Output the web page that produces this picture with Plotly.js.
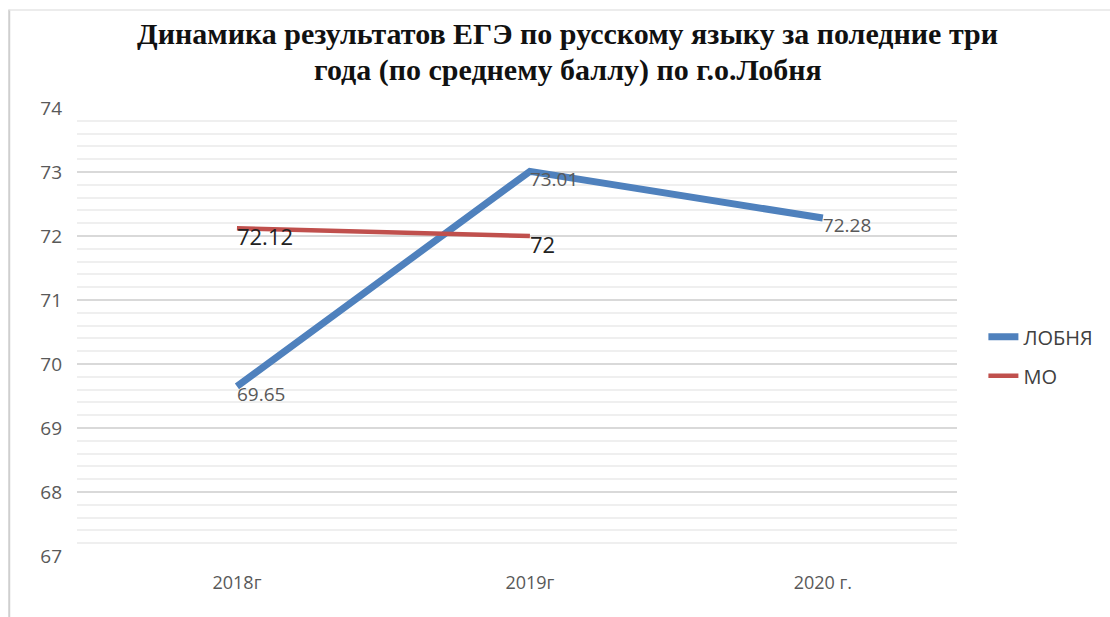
<!DOCTYPE html>
<html>
<head>
<meta charset="utf-8">
<script src="https://cdn.plot.ly/plotly-3.0.1.min.js"></script>
<style>html,body{margin:0;padding:0;background:#fff;}#chart{width:1110px;height:617px;}</style>
</head>
<body>
<div id="chart"></div>
<script>
const years = ["2018г", "2019г", "2020 г."];
const lobnya = [69.65, 73.01, 72.28];
const mo = [72.12, 72.00];
const moYears = ["2018г", "2019г"];
const yTicks = [67, 68, 69, 70, 71, 72, 73, 74];
const titleLines = ["Динамика результатов ЕГЭ по русскому языку за поледние три", "года (по среднему баллу) по г.о.Лобня"];

const traces = [
  {
    x: years, y: lobnya, name: "ЛОБНЯ", type: "scatter", mode: "lines+text",
    line: {color: "#4F81BD", width: 7}, legendgroup: "a",
    text: lobnya.map(v => String(v)), textposition: "bottom right",
    textfont: {family: "Open Sans, sans-serif", size: 19, color: "#595959"},
    cliponaxis: false
  },
  {
    x: moYears, y: mo, name: "МО", type: "scatter", mode: "lines+text",
    line: {color: "#C0504D", width: 4.5}, legendgroup: "b",
    text: mo.map(v => String(v)), textposition: "bottom right",
    textfont: {family: "Open Sans, sans-serif", size: 22, color: "#222"},
    cliponaxis: false
  }
];

const titleFont = {family: "Liberation Serif, serif", size: 30, color: "#111"};
const titleX = (571 - 77) / 886;

const layout = {
  width: 1110, height: 617,
  margin: {l: 77, r: 147, t: 108, b: 61},
  paper_bgcolor: "#fff", plot_bgcolor: "#fff",
  xaxis: {
    type: "category", range: [-0.546, 2.458],
    showgrid: false, zeroline: false, showline: false, ticks: "",
    tickfont: {family: "Open Sans, sans-serif", size: 18, color: "#595959"},
    ticklabelstandoff: 14
  },
  yaxis: {
    range: [67, 74], tickvals: yTicks, ticks: "",
    showgrid: true, gridcolor: "#d9d9d9", gridwidth: 1.5,
    zeroline: false, showline: false,
    minor: {dtick: 0.2, showgrid: true, gridcolor: "#efefef", gridwidth: 1.5},
    tickfont: {family: "Open Sans, sans-serif", size: 19, color: "#595959"},
    ticklabelstandoff: 14
  },
  legend: {
    x: 1.03, xanchor: "left", y: 0.446, yanchor: "middle",
    font: {family: "Open Sans, sans-serif", size: 20, color: "#404040"},
    itemwidth: 30, tracegroupgap: 10
  },
  annotations: [
    {text: "<b>" + titleLines[0] + "</b>", xref: "paper", yref: "paper", x: titleX, xanchor: "center",
     y: (556 - 33) / 448, yanchor: "middle", showarrow: false, font: titleFont},
    {text: "<b>" + titleLines[1] + "</b>", xref: "paper", yref: "paper", x: titleX, xanchor: "center",
     y: (556 - 70) / 448, yanchor: "middle", showarrow: false, font: titleFont}
  ],
  shapes: [
    {type: "line", xref: "paper", yref: "paper", x0: -0.077, x1: -0.077, y0: -0.2, y1: 1.22, line: {color: "#cfcfcf", width: 2}},
    {type: "line", xref: "paper", yref: "paper", x0: -0.077, x1: 1.2, y0: 1.219, y1: 1.219, line: {color: "#e6e6e6", width: 1.5}}
  ]
};

Plotly.newPlot("chart", traces, layout, {displayModeBar: false});
</script>
</body>
</html>
